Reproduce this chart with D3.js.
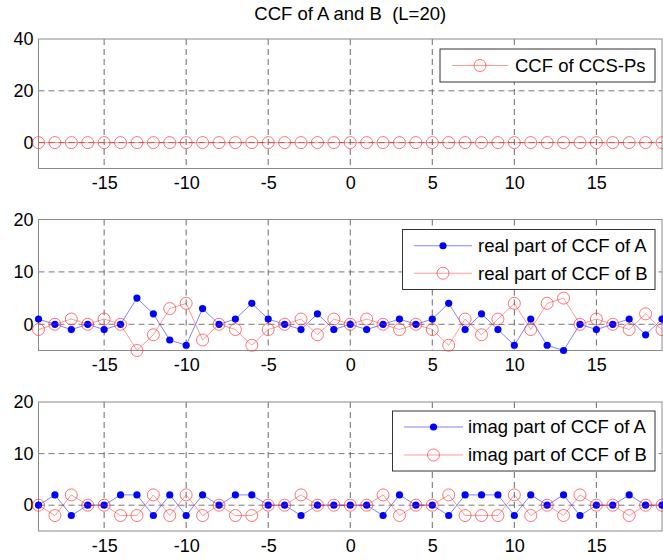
<!DOCTYPE html>
<html>
<head>
<meta charset="utf-8">
<script src="https://cdn.jsdelivr.net/npm/d3@7"></script>
<style>
  body { margin: 0; background: #fff; }
  text { font-family: Arial, "Liberation Sans", sans-serif; fill: #000; }
</style>
</head>
<body>
<div id="chart"></div>
<script>
// lag axis
const lags = [-19,-18,-17,-16,-15,-14,-13,-12,-11,-10,-9,-8,-7,-6,-5,-4,-3,-2,-1,
              0,1,2,3,4,5,6,7,8,9,10,11,12,13,14,15,16,17,18,19];

// CCF of CCS-Ps (flat zero)
const ccsPs = [0,0,0,0,0,0,0,0,0,0,0,0,0,0,0,0,0,0,0,
               0,0,0,0,0,0,0,0,0,0,0,0,0,0,0,0,0,0,0,0];

const realA = [1,0,-1,0,-1,0,5,2,-3,-4,3,0,1,4,1,0,-1,2,-1,
               0,-1,0,1,0,1,4,-1,2,-1,-4,1,-4,-5,0,-1,0,1,-2,1];
const realB = [-1,0,1,0,1,0,-5,-2,3,4,-3,0,-1,-4,-1,0,1,-2,1,
               0,1,0,-1,0,-1,-4,1,-2,1,4,-1,4,5,0,1,0,-1,2,-1];

const imagA = [0,2,-2,0,0,2,2,-2,2,-2,2,0,2,2,0,0,-2,0,0,
               0,0,-2,2,0,0,-2,2,2,2,-2,2,0,2,-2,0,0,2,0,0];
const imagB = [0,-2,2,0,0,-2,-2,2,-2,2,-2,0,-2,-2,0,0,2,0,0,
               0,0,2,-2,0,0,2,-2,-2,-2,2,-2,0,-2,2,0,0,-2,0,0];

const xTicks = [-15,-10,-5,0,5,10,15];
const yTicksTop = [0,20,40];
const yTicksLow = [0,10,20];

const titleText = "CCF of A and B\u00a0\u00a0(L=20)";

const W = 663, H = 560;
const left = 38.5, right = 662;
const blue = "#0000ff", red = "#ff3030";
const fmt = d => String(d);   // plain hyphen minus like the original

const svg = d3.select("#chart").append("svg")
  .attr("width", W).attr("height", H);

const x = d3.scaleLinear().domain([-19, 19]).range([left, right]);

const panels = [
  { top: 39, bottom: 168.5, ydom: [-10, 40], yticks: yTicksTop,
    series: [{ vals: ccsPs, kind: "open", name: "CCF of CCS-Ps" }],
    legend: { x: 440, y: 49, w: 215, rowH: 0, h: 33, lineX0: 452, lineX1: 508, textX: 515 } },
  { top: 219.5, bottom: 350.5, ydom: [-5, 20], yticks: yTicksLow,
    series: [{ vals: realA, kind: "dot", name: "real part of CCF of A" },
             { vals: realB, kind: "open", name: "real part of CCF of B" }],
    legend: { x: 402.5, y: 229.5, w: 252.5, rowH: 27.5, h: 60, lineX0: 414, lineX1: 472, textX: 478 } },
  { top: 402, bottom: 531, ydom: [-5, 20], yticks: yTicksLow,
    series: [{ vals: imagA, kind: "dot", name: "imag part of CCF of A" },
             { vals: imagB, kind: "open", name: "imag part of CCF of B" }],
    legend: { x: 392.5, y: 411, w: 262.5, rowH: 28, h: 60, lineX0: 404, lineX1: 463, textX: 468 } }
];

// title
svg.append("text")
  .attr("x", (left + right) / 2).attr("y", 20)
  .attr("text-anchor", "middle")
  .style("font-size", "18.5px")
  .text(titleText);

panels.forEach(p => {
  const y = d3.scaleLinear().domain(p.ydom).range([p.bottom, p.top]);
  const g = svg.append("g");

  // white plot area
  g.append("rect")
    .attr("x", left).attr("y", p.top)
    .attr("width", right - left).attr("height", p.bottom - p.top)
    .attr("fill", "#fff");

  // grid lines
  g.append("g").selectAll("line.vx")
    .data(xTicks).enter().append("line")
      .attr("x1", d => x(d)).attr("x2", d => x(d))
      .attr("y1", p.top).attr("y2", p.bottom)
      .attr("stroke", "#444").attr("stroke-width", 0.8)
      .attr("stroke-dasharray", "6,4");
  g.append("g").selectAll("line.hy")
    .data(p.yticks.filter(t => t !== p.ydom[1])).enter().append("line")
      .attr("x1", left).attr("x2", right)
      .attr("y1", d => y(d)).attr("y2", d => y(d))
      .attr("stroke", "#555").attr("stroke-width", 0.8)
      .attr("stroke-dasharray", "6,4");

  // box
  g.append("rect")
    .attr("x", left).attr("y", p.top)
    .attr("width", right - left).attr("height", p.bottom - p.top)
    .attr("fill", "none").attr("stroke", "#8a8a8a").attr("stroke-width", 1);

  // axes tick labels
  const xAxis = d3.axisBottom(x).tickValues(xTicks).tickFormat(fmt).tickSize(0).tickPadding(8);
  const gx = g.append("g").attr("transform", `translate(0,${p.bottom})`).call(xAxis);
  gx.select(".domain").remove();
  gx.selectAll("text").style("font-size", "18px").attr("font-family", null);

  const yAxis = d3.axisLeft(y).tickValues(p.yticks).tickFormat(fmt).tickSize(0).tickPadding(5);
  const gy = g.append("g").attr("transform", `translate(${left},0)`).call(yAxis);
  gy.select(".domain").remove();
  gy.selectAll("text").style("font-size", "18px").attr("font-family", null);

  // series
  const line = d3.line().x((d, i) => x(lags[i])).y(d => y(d));
  p.series.forEach(s => {
    const col = s.kind === "dot" ? blue : red;
    g.append("path")
      .datum(s.vals)
      .attr("d", line)
      .attr("fill", "none")
      .attr("stroke", col)
      .attr("stroke-opacity", 0.7)
      .attr("stroke-width", 0.7);
    if (s.kind === "dot") {
      g.append("g").selectAll("circle")
        .data(s.vals).enter().append("circle")
          .attr("cx", (d, i) => x(lags[i]))
          .attr("cy", d => y(d))
          .attr("r", 3.6)
          .attr("fill", blue);
    } else {
      g.append("g").selectAll("circle")
        .data(s.vals).enter().append("circle")
          .attr("cx", (d, i) => x(lags[i]))
          .attr("cy", d => y(d))
          .attr("r", 6)
          .attr("fill", "none")
          .attr("stroke", red)
          .attr("stroke-opacity", 0.85)
          .attr("stroke-width", 0.8);
    }
  });

  // legend
  const L = p.legend;
  const lg = g.append("g");
  lg.append("rect")
    .attr("x", L.x).attr("y", L.y).attr("width", L.w).attr("height", L.h)
    .attr("fill", "#fff").attr("stroke", "#333").attr("stroke-width", 1);
  p.series.forEach((s, i) => {
    const col = s.kind === "dot" ? blue : red;
    const n = p.series.length;
    const cy = n === 1 ? L.y + L.h / 2 : L.y + L.h / 2 + (i - 0.5) * L.rowH;
    lg.append("line")
      .attr("x1", L.lineX0).attr("x2", L.lineX1)
      .attr("y1", cy).attr("y2", cy)
      .attr("stroke", col).attr("stroke-opacity", 0.7).attr("stroke-width", 0.7);
    const mx = (L.lineX0 + L.lineX1) / 2;
    if (s.kind === "dot") {
      lg.append("circle").attr("cx", mx).attr("cy", cy).attr("r", 3.6).attr("fill", blue);
    } else {
      lg.append("circle").attr("cx", mx).attr("cy", cy).attr("r", 6)
        .attr("fill", "none").attr("stroke", red).attr("stroke-opacity", 0.85).attr("stroke-width", 0.8);
    }
    lg.append("text")
      .attr("x", L.textX).attr("y", cy)
      .attr("dy", "0.35em")
      .style("font-size", "18.5px")
      .text(s.name);
  });
});
</script>
</body>
</html>
